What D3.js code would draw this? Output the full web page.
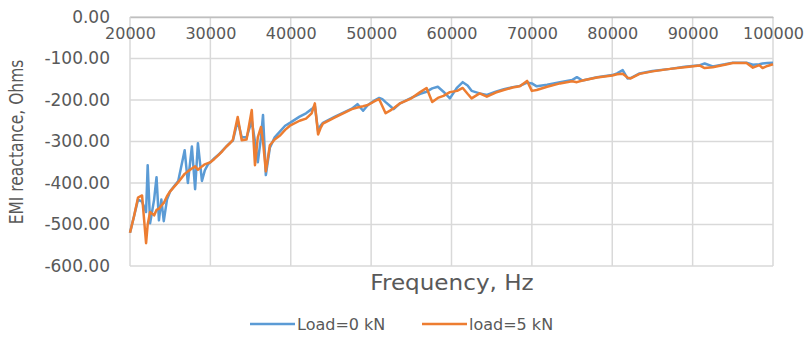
<!DOCTYPE html>
<html><head><meta charset="utf-8">
<script src="https://cdn.jsdelivr.net/npm/d3@7"></script>
<style>
body{margin:0;background:#fff;}
text{font-family:"DejaVu Sans",sans-serif;fill:#595959;}
</style></head>
<body><svg id="c" width="809" height="337"></svg>
<script>
const freq = [20000,20500,21000,21500,22000,22200,22500,23000,23300,23600,23900,24200,24600,25000,26000,26800,27200,27700,28100,28450,28950,29300,29700,30000,30500,31000,31500,32000,32500,32800,33400,33900,34500,35150,35550,35900,36300,36550,36900,37400,38000,38700,39300,39900,41100,41900,42600,43000,43400,43700,44000,45500,47600,48300,49000,49600,50500,51000,51400,51800,52400,52800,53600,55000,56100,56900,57600,58300,59000,59800,60700,61400,62000,62500,63500,64400,65500,66500,67600,68500,69400,70000,70600,71900,73500,75000,75600,76300,78100,80000,80600,81300,81900,82300,83400,85000,87200,89000,90900,91500,92500,94000,95000,96700,97500,98300,98700,99300,100000];
const load0 = [-520,-480,-440,-445,-470,-357,-497,-440,-386,-490,-440,-492,-440,-420,-395,-321,-400,-312,-415,-304,-395,-370,-355,-350,-340,-332,-322,-312,-302,-298,-250,-290,-290,-250,-300,-350,-290,-236,-381,-315,-290,-275,-262,-255,-240,-232,-222,-215,-275,-262,-255,-240,-221,-210,-226,-212,-200,-195,-198,-205,-215,-222,-208,-195,-185,-180,-172,-168,-180,-196,-170,-157,-165,-178,-184,-188,-180,-174,-169,-166,-158,-160,-167,-163,-157,-152,-145,-153,-145,-140,-136,-128,-148,-147,-136,-130,-125,-120,-116,-112,-119,-114,-110,-110,-115,-114,-112,-111,-110];
const load5 = [-520,-480,-435,-430,-545,-500,-470,-478,-465,-462,-455,-448,-432,-420,-398,-378,-372,-365,-360,-368,-360,-355,-352,-350,-342,-333,-323,-312,-303,-296,-241,-297,-295,-224,-357,-290,-265,-300,-372,-309,-295,-285,-272,-262,-250,-245,-232,-208,-283,-268,-257,-242,-222,-218,-215,-212,-202,-198,-215,-232,-225,-220,-208,-196,-181,-171,-205,-195,-190,-181,-178,-171,-185,-196,-184,-192,-182,-176,-170,-167,-154,-178,-176,-168,-160,-155,-157,-153,-146,-141,-138,-137,-146,-148,-137,-131,-125,-121,-117,-123,-121,-115,-111,-111,-122,-116,-123,-118,-114];
const seriesNames = ["Load=0 kN","load=5 kN"];
const xTicks = [20000,30000,40000,50000,60000,70000,80000,90000,100000];
const yTicks = [0,-100,-200,-300,-400,-500,-600];

const colors = ["#5B9BD5","#ED7D31"];
const svg = d3.select("#c");
const L=130,R=773,T=17,B=266;
const x = d3.scaleLinear().domain([20000,100000]).range([L,R]);
const y = d3.scaleLinear().domain([0,-600]).range([T,B]);

// gridlines
svg.append("g").selectAll("line").data(yTicks).join("line")
  .attr("x1",L).attr("x2",R).attr("y1",d=>y(d)).attr("y2",d=>y(d))
  .attr("stroke","#d9d9d9").attr("stroke-width",1.5);
svg.append("g").selectAll("line").data(xTicks).join("line")
  .attr("x1",d=>x(d)).attr("x2",d=>x(d)).attr("y1",T).attr("y2",B)
  .attr("stroke","#d9d9d9").attr("stroke-width",1.5);

// y axis labels
const yfmt = d => d.toFixed(2);
const ya = svg.append("g").attr("transform",`translate(${L},0)`)
  .call(d3.axisLeft(y).tickValues(yTicks).tickFormat(yfmt).tickSize(0).tickPadding(20));
ya.select(".domain").remove();
ya.selectAll("text").style("font-size","17px").style("font-family","DejaVu Sans").attr("fill","#595959");

// x axis labels (axis at 0, top)
const xa = svg.append("g").attr("transform",`translate(0,${T})`)
  .call(d3.axisBottom(x).tickValues(xTicks).tickFormat(d3.format("d")).tickSize(0).tickPadding(11));
xa.select(".domain").attr("stroke","#bfbfbf").attr("stroke-width",1.5);
xa.selectAll("text").style("font-size","16px").style("font-family","DejaVu Sans").attr("fill","#595959");

// lines
const data = [load0, load5];
const line = d3.line().x((d,i)=>x(freq[i])).y(d=>y(d));
data.forEach((s,k)=>{
  svg.append("path").datum(s).attr("d",line).attr("fill","none")
    .attr("stroke",colors[k]).attr("stroke-width",2.5).attr("stroke-linejoin","round");
});

// titles
svg.append("text").attr("transform","translate(23,142) rotate(-90) scale(1,1.2)").attr("text-anchor","middle")
  .style("font-size","15.5px").text("EMI reactance, Ohms");
svg.append("text").attr("transform","translate(452,290) scale(1.1,1)").attr("text-anchor","middle")
  .style("font-size","21px").text("Frequency, Hz");

// legend
const lg = svg.append("g");
const lx = [250,422];
seriesNames.forEach((n,k)=>{
  lg.append("line").attr("x1",lx[k]).attr("x2",lx[k]+45).attr("y1",324).attr("y2",324)
    .attr("stroke",colors[k]).attr("stroke-width",2.5);
  lg.append("text").attr("x",lx[k]+47).attr("y",330).style("font-size","16px").text(n);
});
</script></body></html>
